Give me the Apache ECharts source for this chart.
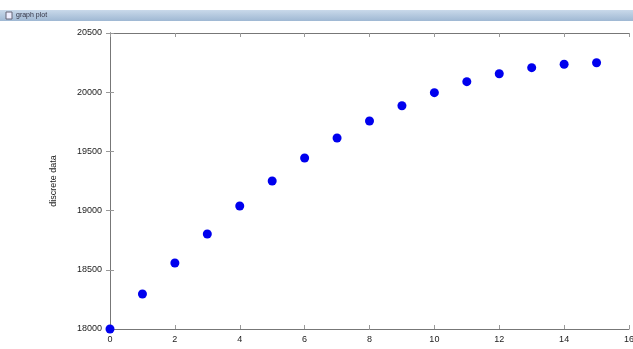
<!DOCTYPE html>
<html><head><meta charset="utf-8">
<script src="https://cdn.jsdelivr.net/npm/echarts@6/dist/echarts.min.js"></script>
<style>html,body{margin:0;padding:0;background:#fff}#c{width:633px;height:349px}</style>
</head><body><div id="c"></div>
<script>
const xValues = [0,1,2,3,4,5,6,7,8,9,10,11,12,13,14,15];
const yValues = [18000,18296,18557,18802,19039,19250,19444,19613,19757,19886,19996,20089,20156,20207,20236,20249];
const yLabel = 'discrete data';
const windowTitle = 'graph plot';

const chart = echarts.init(document.getElementById('c'));
const axisLine = {show:true, lineStyle:{color:'#777', width:1}};
const tick = {show:true, inside:true, length:4, lineStyle:{color:'#999'}};
const lbl = {fontFamily:'Liberation Sans, Arial', fontSize:9, color:'#222', formatter:v=>String(v)};
chart.setOption({
  animation:false,
  graphic:[
    {type:'rect', shape:{x:0,y:10,width:633,height:11}, style:{fill:new echarts.graphic.LinearGradient(0,0,0,1,[{offset:0,color:'#c9d9ea'},{offset:1,color:'#9fb8d3'}])}, z:0},
    {type:'rect', shape:{x:6,y:12,width:6,height:7}, style:{fill:'#eef',stroke:'#667'}},
    {type:'text', left:16, top:12, style:{text:windowTitle, fontSize:7, fill:'#334', fontFamily:'Liberation Sans, Arial'}}
  ],
  grid:{left:110, right:4, top:33, bottom:20, outerBoundsMode:'none', containLabel:false},
  xAxis:[
    {type:'value', min:0, max:16, interval:2, axisLine, axisTick:tick, splitLine:{show:false},
     axisLabel:Object.assign({margin:6}, lbl)},
    {type:'value', position:'top', min:0, max:16, interval:2, axisLine, axisTick:tick, splitLine:{show:false}, axisLabel:{show:false}}
  ],
  yAxis:[
    {type:'value', min:18000, max:20500, interval:500, axisLine, axisTick:tick, splitLine:{show:false},
     axisLabel:Object.assign({margin:8}, lbl),
     name:yLabel, nameLocation:'middle', nameRotate:90, nameGap:52,
     nameTextStyle:{fontFamily:'Liberation Sans, Arial', fontSize:9, color:'#222'}},
    {type:'value', position:'right', min:18000, max:20500, interval:500, axisLine, axisTick:tick, splitLine:{show:false}, axisLabel:{show:false}}
  ],
  series:[{type:'scatter', data:xValues.map((x,i)=>[x,yValues[i]]), symbolSize:9,
    itemStyle:{color:'#0000ee', opacity:1}, clip:false, z:5}]
});
</script></body></html>
